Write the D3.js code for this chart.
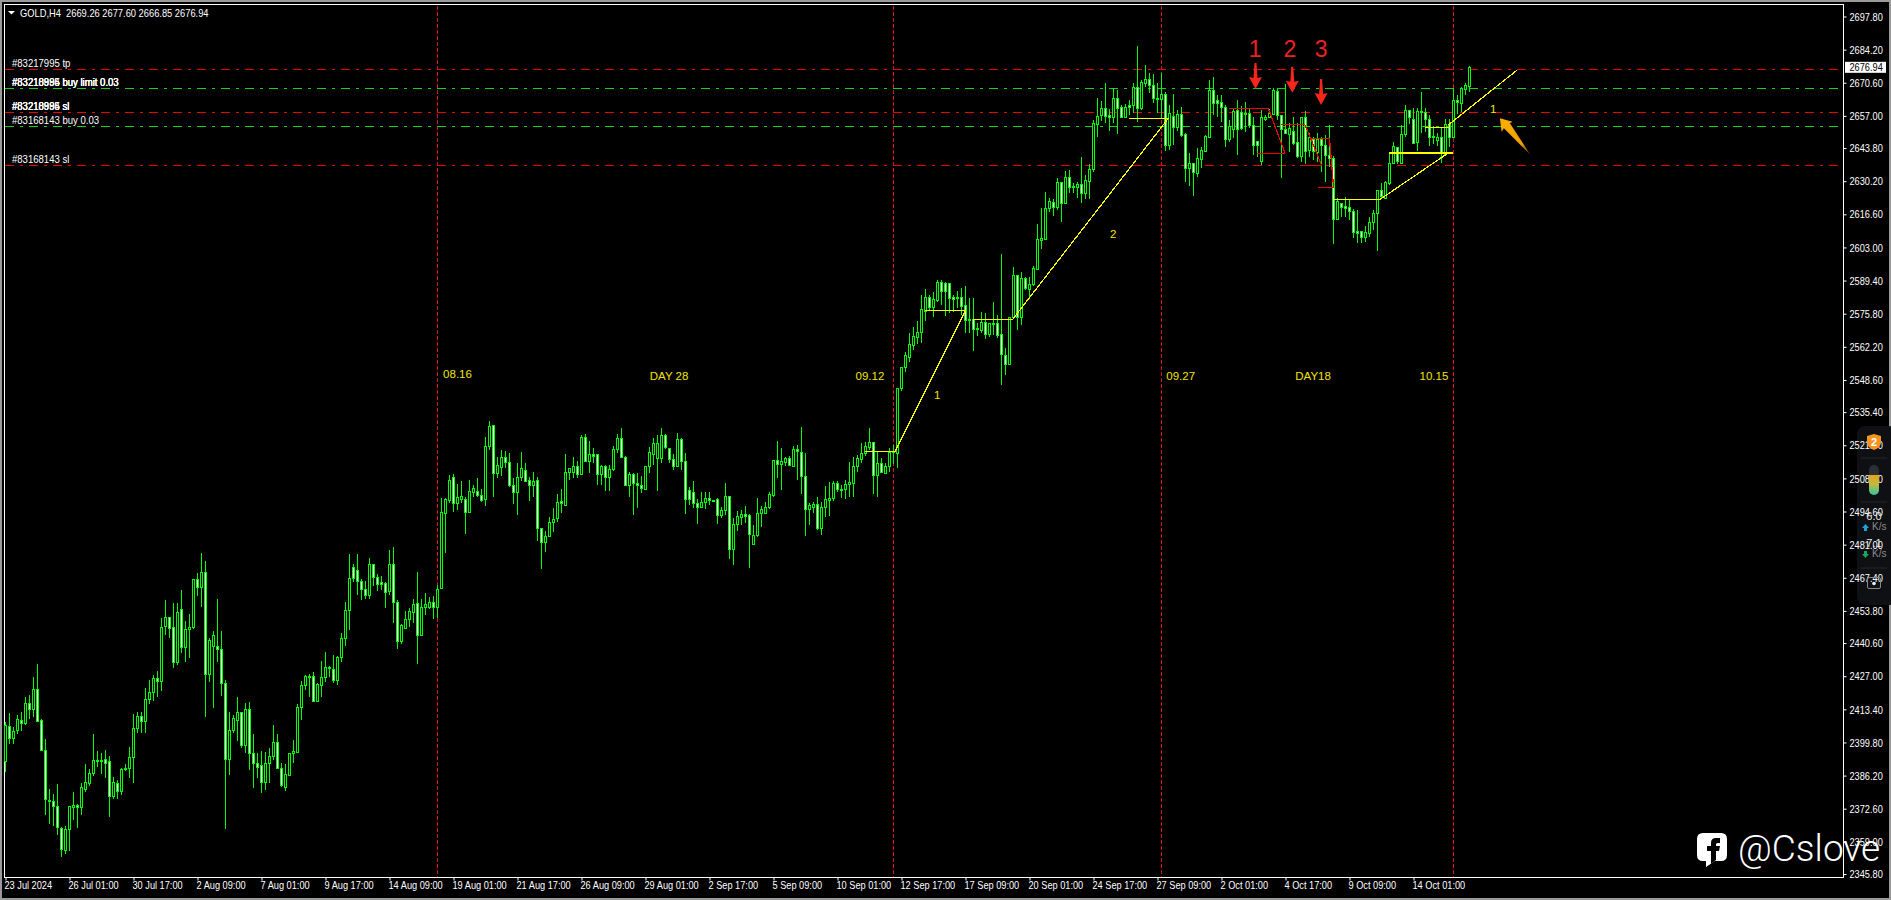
<!DOCTYPE html>
<html><head><meta charset="utf-8">
<script src="https://cdn.jsdelivr.net/npm/d3@7/dist/d3.min.js"></script>
<style>
html,body{margin:0;padding:0;background:#000;overflow:hidden}
text{font-family:"Liberation Sans",sans-serif;font-size:11.5px}
</style></head><body><svg id="c" width="1891" height="900"></svg>
<script>
const symbolInfo = "GOLD,H4  2669.26 2677.60 2666.85 2676.94";
const lastPrice = 2676.94;
const priceTicks = [2697.80,2684.20,2670.60,2657.00,2643.80,2630.20,2616.60,2603.00,2589.40,2575.80,2562.20,2548.60,2535.40,2521.80,2508.20,2494.60,2481.00,2467.40,2453.80,2440.60,2427.00,2413.40,2399.80,2386.20,2372.60,2359.00,2345.80];
const timeLabels = ["23 Jul 2024","26 Jul 01:00","30 Jul 17:00","2 Aug 09:00","7 Aug 01:00","9 Aug 17:00","14 Aug 09:00","19 Aug 01:00","21 Aug 17:00","26 Aug 09:00","29 Aug 01:00","2 Sep 17:00","5 Sep 09:00","10 Sep 01:00","12 Sep 17:00","17 Sep 09:00","20 Sep 01:00","24 Sep 17:00","27 Sep 09:00","2 Oct 01:00","4 Oct 17:00","9 Oct 09:00","14 Oct 01:00"];
const barsPerLabel = 16;

const opens = [
2392.3,2406.7,2401.8,2405.0,2408.9,2407.9,2415.9,2413.4,2421.6,2408.9,2396.6,2376.1,2375.9,2373.6,2364.8,2355.7,2364.2,2373.5,2374.0,2373.5,
2380.6,2383.3,2387.4,2392.5,2392.6,2392.9,2392.1,2378.0,2383.0,2379.7,2388.8,2389.2,2393.7,2405.6,2410.5,2408.8,2417.5,2420.7,2426.1,2425.2,
2447.7,2451.2,2447.1,2433.0,2454.4,2439.1,2446.2,2447.1,2466.8,2463.7,2469.6,2427.8,2439.4,2439.3,2438.0,2424.1,2392.9,2404.8,2409.0,2412.2,
2398.6,2413.4,2395.3,2391.5,2390.4,2383.7,2391.2,2394.3,2399.9,2389.5,2381.7,2386.6,2395.3,2396.0,2414.2,2423.3,2427.0,2427.0,2416.8,2423.3,
2426.5,2430.6,2429.8,2425.6,2434.7,2442.5,2454.0,2471.7,2470.5,2466.2,2462.7,2460.5,2472.9,2467.6,2465.8,2465.1,2462.1,2472.9,2457.3,2441.3,
2446.9,2450.6,2453.5,2456.9,2444.0,2455.3,2455.5,2457.5,2455.5,
2463.0,2494.1,2499.3,2508.9,2498.0,2499.9,2499.6,2494.6,2502.8,2503.2,2501.5,
2499.6,2521.6,2530.0,2510.6,2513.0,2516.9,2515.1,2505.6,2502.8,2508.6,2511.5,2507.4,2505.4,2507.4,2487.7,2482.2,2484.7,2490.4,2491.8,2498.9,
2497.2,2510.7,2510.7,2513.2,2510.0,2525.1,2515.5,2518.1,2518.1,2509.9,2513.4,2508.9,2511.9,2520.1,2524.6,2516.9,2505.6,2509.9,2506.5,2505.4,
2504.0,2513.2,2518.4,2516.4,2516.4,2525.9,2520.5,2516.0,2513.4,2524.2,2515.2,2503.3,2502.5,2498.0,2496.3,2498.7,2500.0,2499.2,2499.6,2493.3,
2495.1,2500.8,2479.4,2489.4,2492.5,2493.5,2493.0,2481.4,2485.0,2493.9,2494.1,2496.3,2501.5,2515.6,2514.2,2515.1,2516.4,2513.4,2520.1,2518.9,
2509.1,2495.5,2496.6,2497.6,2487.7,2496.3,2499.3,2500.0,2506.2,2504.0,2503.7,2505.8,2506.5,2513.3,2516.3,2518.5,2521.2,2523.0,2509.5,2514.4,
2510.6,2513.3,2519.5,2518.5,2545.2,2553.8,
2558.2,2563.1,2566.4,2568.4,2577.1,2582.5,2578.6,2581.4,2588.8,2588.3,2588.2,2582.7,2582.7,2582.7,2579.3,2573.5,2573.5,2569.96,2569.1,2572.3,
2567.5,2572.0,2571.9,2567.4,2558.9,2555.0,2574.3,2591.6,2574.6,2590.3,2585.96,2588.1,2594.3,2606.2,2606.6,2619.3,2621.5,2619.7,2629.7,2621.4,
2631.8,2628.1,2627.7,2628.9,2625.2,2630.4,2635.1,
2653.7,2657.4,2660.1,2657.4,2656.7,2664.2,2660.5,2656.4,2661.5,2661.3,2668.7,2660.4,2670.7,2672.0,2669.6,2664.5,2663.8,2665.9,2644.9,2656.8,
2652.6,2657.6,
2649.4,2635.5,2637.5,2633.7,2639.5,2642.7,2648.5,2667.6,2663.5,2662.6,2660.7,2647.7,2651.8,2659.4,2658.5,2658.0,2658.0,2653.1,2646.6,2638.6,
2655.9,2656.4,2657.8,2667.2,2657.2,2651.8,2649.6,2650.7,2646.3,2640.5,2656.4,2643.0,2647.4,2642.2,2647.4,2644.9,2641.0,2639.6,2614.6,2621.1,
2620.0,2619.5,2617.8,2609.6,2609.6,2607.2,2609.1,2613.5,2617.0,2626.6,2623.5,2629.6,2637.8,2644.4,2637.8,2649.4,2659.3,2655.7,2646.3,2658.9,
2658.6,2655.7,2648.6,2647.1,2648.2,2641.4,2653.5,2648.5,2663.5,2662.4,2667.9,2669.26];
const closes = [
2407.0,2401.8,2404.6,2409.3,2407.9,2415.9,2413.4,2421.6,2408.8,2396.7,2376.5,2375.9,2373.6,2365.0,2356.0,2364.2,2373.6,2374.0,2373.5,2381.4,
2383.4,2387.1,2392.6,2392.6,2392.3,2391.5,2378.0,2383.4,2379.7,2388.8,2389.2,2393.7,2405.6,2410.5,2408.8,2417.5,2420.7,2426.1,2425.2,2447.1,
2451.2,2446.6,2433.0,2453.2,2439.1,2446.4,2447.1,2466.8,2463.7,2469.6,2427.8,2441.9,2443.8,2438.0,2424.1,2392.9,2404.8,2409.7,2412.2,2398.6,
2413.4,2395.6,2391.5,2389.6,2383.7,2391.2,2394.3,2399.9,2389.5,2382.4,2386.7,2395.3,2396.2,2414.2,2423.3,2427.0,2426.5,2417.0,2423.8,2426.8,
2430.6,2430.8,2425.6,2434.7,2442.5,2454.0,2467.2,2467.2,2466.2,2462.7,2460.5,2472.9,2467.6,2464.7,2464.8,2461.7,2472.9,2457.3,2441.3,2447.9,
2450.6,2453.6,2456.5,2444.0,2455.3,2456.5,2457.5,2455.5,2462.9,
2494.3,2499.6,2507.4,2498.0,2500.7,2501.0,2494.6,2502.9,2504.1,2501.5,2499.3,
2521.6,2529.6,2510.6,2513.8,2516.9,2515.1,2505.6,2502.8,2508.9,2512.3,2507.3,2505.4,2507.0,2487.7,2482.0,2484.6,2490.4,2491.7,2498.7,2498.2,
2510.7,2512.3,2513.2,2510.2,2525.1,2515.5,2518.1,2517.5,2509.9,2513.4,2508.9,2511.9,2520.1,2524.6,2516.9,2505.6,2509.9,2506.5,2505.4,2504.4,
2513.2,2518.9,2522.6,2522.6,2525.9,2520.9,2516.0,2513.4,2524.2,2515.3,2499.6,2499.6,2498.0,2496.3,2498.7,2500.0,2499.3,2498.8,2493.3,2495.1,
2500.8,2479.4,2489.5,2492.9,2493.6,2492.8,2485.2,2485.0,2493.9,2495.5,2496.3,2501.8,2515.6,2514.2,2515.3,2516.6,2513.6,2520.1,2519.3,2509.2,
2495.5,2497.3,2497.7,2487.7,2496.3,2499.6,2500.0,2506.2,2503.7,2503.7,2505.8,2506.6,2513.3,2516.4,2518.5,2521.5,2523.0,2509.5,2514.4,2511.0,
2513.3,2519.2,2519.0,2545.2,2553.8,2558.8,
2563.4,2566.7,2568.4,2577.6,2582.5,2578.6,2581.7,2588.8,2585.1,2585.3,2582.4,2582.0,2582.1,2579.1,2573.4,2573.2,2569.7,2569.4,2572.3,2567.6,
2571.9,2571.7,2567.1,2559.1,2555.0,2574.3,2591.6,2574.6,2590.3,2586.5,2588.1,2594.4,2606.4,2606.8,2619.3,2621.9,2619.7,2629.7,2621.4,2631.8,
2627.7,2627.8,2628.9,2625.2,2630.7,2635.2,2654.0,
2656.8,2660.1,2657.0,2656.7,2664.2,2660.4,2656.7,2660.5,2660.8,2668.7,2660.4,2670.8,2672.0,2669.7,2664.5,2663.8,2665.9,2644.9,2658.1,2652.6,
2657.6,2649.3,
2635.5,2637.5,2634.0,2639.6,2643.0,2648.8,2667.6,2662.4,2662.2,2660.5,2647.7,2652.9,2659.2,2651.8,2651.9,2657.8,2653.1,2644.9,2644.9,2656.4,
2656.7,2658.3,2667.5,2657.4,2651.8,2649.9,2651.9,2646.0,2640.5,2656.4,2642.7,2648.2,2642.5,2647.4,2644.9,2641.0,2639.6,2614.6,2622.2,2619.8,
2619.2,2617.8,2609.5,2609.1,2607.4,2609.4,2613.5,2617.0,2626.5,2624.1,2630.0,2637.8,2644.7,2638.4,2649.4,2659.3,2656.7,2646.0,2659.0,2658.6,
2655.6,2648.2,2648.5,2648.4,2641.6,2653.7,2648.5,2663.5,2662.6,2668.3,2669.5,2676.94];
const highs = [
2408.3,2411.8,2406.3,2411.1,2412.2,2418.6,2419.3,2426.5,2432.0,2409.3,2401.2,2380.6,2378.7,2382.6,2365.0,2365.3,2373.7,2379.3,2374.4,2383.3,
2391.0,2388.8,2403.3,2396.3,2395.6,2396.7,2394.3,2385.5,2384.4,2389.2,2391.0,2397.8,2411.4,2412.4,2412.2,2422.0,2425.4,2427.5,2429.3,2450.8,
2458.3,2451.4,2456.9,2457.2,2462.4,2449.7,2452.5,2466.8,2469.2,2477.4,2474.4,2442.5,2445.6,2458.5,2445.6,2425.4,2412.2,2411.1,2418.3,2412.4,
2415.9,2416.3,2403.3,2395.3,2396.3,2396.0,2397.4,2407.0,2403.3,2391.5,2391.0,2395.3,2400.8,2415.6,2425.2,2427.5,2427.8,2428.9,2424.1,2433.4,
2436.9,2431.2,2435.7,2435.3,2444.9,2457.6,2477.2,2473.1,2477.2,2466.8,2466.2,2475.4,2472.9,2468.8,2468.1,2465.8,2478.8,2479.9,2458.3,2448.4,
2453.9,2454.9,2458.5,2469.9,2458.5,2461.3,2459.6,2459.9,2464.4,
2500.0,2500.0,2509.6,2510.0,2505.9,2507.1,2500.7,2507.6,2505.5,2508.2,2503.7,
2525.1,2531.8,2530.0,2517.1,2519.9,2519.6,2518.8,2508.2,2514.4,2518.9,2514.4,2508.9,2511.0,2508.9,2487.7,2486.8,2492.5,2495.9,2501.7,2503.7,
2518.2,2512.3,2517.1,2515.3,2526.0,2526.4,2523.7,2520.8,2518.2,2513.7,2513.7,2513.7,2521.5,2526.4,2528.8,2517.4,2511.0,2510.3,2510.6,2509.3,
2513.3,2521.2,2524.6,2526.0,2528.8,2526.4,2520.5,2518.2,2526.7,2524.6,2518.8,2504.8,2507.1,2499.6,2502.8,2502.8,2502.8,2499.3,2500.0,2496.6,
2506.2,2501.0,2491.8,2495.0,2495.2,2496.9,2493.5,2489.1,2500.0,2496.9,2498.7,2502.8,2515.8,2523.6,2520.5,2517.1,2517.4,2521.6,2521.9,2529.2,
2518.5,2498.0,2498.5,2500.7,2498.7,2505.2,2506.6,2507.3,2507.3,2505.5,2507.6,2515.1,2517.1,2517.8,2522.6,2523.3,2528.8,2523.3,2519.2,2516.4,
2514.4,2520.5,2521.9,2545.2,2554.1,2560.2,
2567.8,2570.2,2572.7,2583.5,2585.8,2583.5,2584.9,2589.7,2589.7,2589.0,2588.6,2583.5,2585.1,2586.2,2587.2,2582.1,2582.1,2571.9,2576.4,2576.2,
2572.1,2580.5,2575.3,2600.3,2561.6,2574.6,2594.9,2591.7,2592.8,2590.7,2591.0,2595.4,2612.5,2619.1,2625.6,2623.2,2622.8,2631.4,2630.0,2634.5,
2634.8,2629.3,2630.0,2640.3,2632.7,2637.3,2655.3,
2664.2,2663.1,2670.4,2659.7,2668.3,2667.6,2661.5,2661.9,2663.5,2670.4,2685.7,2671.7,2677.9,2674.8,2674.2,2670.4,2674.5,2667.0,2661.5,2666.0,
2659.4,2660.5,
2649.9,2641.6,2637.5,2643.7,2644.4,2649.2,2671.7,2673.1,2665.6,2665.6,2661.5,2655.3,2659.7,2663.5,2661.1,2662.8,2659.7,2656.7,2646.7,2659.4,
2657.4,2659.7,2668.3,2668.3,2657.4,2670.1,2654.0,2656.7,2654.0,2656.4,2659.1,2649.9,2648.5,2649.9,2648.5,2649.2,2653.3,2640.5,2623.2,2621.1,
2623.9,2622.5,2618.7,2618.4,2609.6,2611.8,2615.6,2618.4,2626.6,2629.3,2630.3,2641.2,2646.4,2644.4,2653.3,2661.5,2659.4,2660.1,2660.4,2666.7,
2660.1,2657.4,2652.9,2649.9,2652.3,2655.7,2655.6,2668.3,2665.6,2669.0,2670.4,2677.60];
const lows = [
2387.8,2399.2,2399.2,2403.3,2404.5,2407.0,2409.4,2410.4,2408.1,2396.3,2370.0,2366.3,2365.7,2361.8,2352.9,2354.0,2355.4,2368.0,2364.6,2370.0,
2379.6,2381.9,2386.0,2389.6,2386.7,2385.4,2369.4,2376.5,2376.5,2378.2,2388.2,2385.1,2383.3,2403.6,2403.6,2403.8,2415.5,2417.0,2418.6,2421.1,
2443.9,2442.5,2430.2,2431.7,2436.4,2433.0,2434.6,2446.2,2459.9,2455.5,2410.4,2424.8,2413.8,2433.0,2419.0,2364.2,2386.5,2403.6,2400.5,2397.4,
2395.3,2388.5,2381.3,2385.1,2378.9,2380.3,2383.0,2392.6,2388.9,2381.7,2380.0,2386.0,2391.2,2396.0,2409.0,2421.3,2418.6,2416.6,2416.6,2418.6,
2424.8,2426.8,2424.4,2423.4,2433.0,2439.5,2446.0,2465.8,2460.3,2458.3,2458.7,2458.5,2464.2,2462.1,2462.4,2455.1,2460.3,2449.0,2438.0,2440.2,
2446.2,2447.1,2448.7,2431.9,2443.9,2452.1,2454.4,2450.5,2450.8,
2462.7,2477.5,2498.0,2494.6,2495.2,2498.0,2485.4,2493.9,2500.7,2500.7,2498.7,
2496.9,2519.9,2500.7,2508.2,2509.2,2512.3,2504.8,2497.7,2493.3,2507.3,2506.6,2499.1,2500.7,2482.6,2470.8,2478.1,2484.3,2486.3,2490.4,2493.9,
2496.9,2507.5,2508.5,2508.2,2509.6,2515.1,2510.6,2514.4,2505.5,2505.5,2503.2,2503.2,2511.4,2518.5,2516.4,2505.1,2500.7,2493.2,2496.2,2502.1,
2503.9,2510.3,2513.7,2503.2,2514.4,2520.3,2514.7,2511.7,2513.0,2511.7,2493.6,2497.3,2496.2,2489.5,2495.9,2495.5,2497.3,2498.7,2489.5,2491.8,
2493.2,2475.0,2472.7,2486.6,2489.1,2489.8,2471.6,2480.9,2484.3,2488.4,2493.6,2495.5,2500.7,2508.2,2503.4,2513.3,2513.3,2513.0,2507.5,2501.8,
2484.6,2489.1,2493.9,2487.0,2485.0,2492.5,2492.8,2499.1,2502.8,2500.0,2499.7,2500.7,2500.7,2511.0,2514.4,2517.4,2519.9,2501.8,2500.7,2510.6,
2510.3,2511.0,2514.1,2512.6,2544.2,2552.0,
2556.1,2560.9,2563.2,2563.7,2572.8,2577.3,2574.6,2580.8,2579.4,2574.9,2576.0,2576.7,2578.3,2575.3,2568.0,2567.8,2560.5,2566.7,2567.8,2565.4,
2566.1,2567.1,2566.0,2546.6,2550.7,2554.8,2573.9,2569.1,2571.2,2585.5,2582.1,2587.2,2593.8,2602.4,2606.1,2617.7,2615.9,2618.4,2613.6,2621.1,
2625.2,2625.2,2623.4,2621.1,2622.8,2622.8,2634.1,
2648.5,2654.9,2654.2,2650.9,2653.9,2649.6,2656.0,2656.0,2657.4,2658.0,2654.6,2659.4,2669.0,2666.3,2662.2,2658.0,2656.0,2642.7,2643.0,2645.1,
2650.9,2648.2,
2630.0,2628.2,2624.3,2632.1,2635.5,2642.3,2648.2,2657.4,2656.7,2654.6,2644.4,2646.4,2647.8,2641.0,2651.2,2650.5,2651.9,2641.0,2640.3,2636.9,
2654.9,2656.0,2657.4,2655.3,2631.7,2649.9,2642.3,2645.1,2639.6,2638.2,2637.1,2640.3,2638.9,2638.2,2634.1,2630.0,2636.2,2604.4,2614.3,2615.6,
2615.4,2614.3,2606.8,2605.0,2605.0,2605.4,2607.2,2610.2,2601.7,2623.2,2623.5,2628.6,2637.1,2637.3,2637.3,2648.2,2653.7,2645.5,2642.6,2649.9,
2650.5,2644.7,2645.5,2644.7,2637.5,2641.0,2644.4,2648.2,2657.8,2658.7,2665.6,2666.85];

/* order lines: price, colour class */
const orderLevels = [2676.1,2668.3,2658.5,2652.7,2636.7];
const orderColors = ["red","green","red","green","red"];
const orderTexts = [["#83217995 tp"],["#83218994 buy limit 0.03","#83218995 buy limit 0.03","#83210885 buy limit 0.03"],["#83218994 sl","#83218995 sl","#83210885 sl"],["#83168143 buy 0.03"],["#83168143 sl"]];
/* vertical period separators, as bar indices */
const separators = [108,222,289,362];
/* trend lines: bar index a, price a, bar index b, price b */
const yellowLines = [
[214.9,2519.3,222.4,2519.3],[222.4,2519.3,240,2577.0],[229.9,2577.0,240,2577.0],[241.9,2573.5,251.8,2573.5],
[251.8,2573.5,290.7,2656.0],[280.9,2656.0,290.7,2656.0],[332.2,2622.8,343.7,2622.8],[343.7,2622.8,360.7,2641.8],
[345.9,2641.8,361.9,2641.8],[354.9,2652.3,361.2,2652.3],[360.7,2653.3,377.9,2675.8]];
const redLines = [
[305.9,2660.1,315.7,2660.1],[315.7,2660.1,319.9,2641.6],[312.9,2641.6,319.9,2641.6],[318.9,2653.5,324.9,2653.5],
[324.9,2653.3,329,2636.8],[323.7,2636.8,329,2636.8],[326,2647.8,331,2647.8],[331,2647.8,332,2628],[328,2627.7,332,2627.7]];
const yellowNotes = [["08.16",113,2551.0],["DAY 28",165.9,2550.2],["09.12",216.1,2550.2],["09.27",293.8,2550.2],["DAY18",326.9,2550.2],["10.15",357.1,2550.2],["1",232.9,2542.4],["2",276.9,2608.5],["1",371.9,2659.8]];
const redNotes = [["1",312.4,2684.5],["2",321.1,2684.5],["3",328.9,2684.5]];
const redArrowTips = [[312.5,2668.0],[321.7,2666.5],[328.9,2661.5]];
const orangeArrowTip = [373.6,2656];

const W=1891,H=900,L=4.5,T=4.5,R=1843.5,B=877.5;
const svg=d3.select("#c");
const x=d3.scaleLinear().domain([0,366]).range([5.5,1469.5]);
const y=d3.scaleLinear().domain([2345.8,2697.8]).range([874,16.5]);
/* the reference's UI font is narrower than any installed one: condense glyphs horizontally */
const narrow=(sel,k)=>sel.each(function(){this.setAttribute("textLength",this.getComputedTextLength()*k);this.setAttribute("lengthAdjust","spacingAndGlyphs");});

/* window chrome */
svg.append("rect").attr("width",W).attr("height",H).attr("fill","#9a9a9a");
svg.append("rect").attr("x",2).attr("y",2).attr("width",W-4).attr("height",H-4).attr("fill","#000");
svg.append("rect").attr("x",L).attr("y",T).attr("width",R-L).attr("height",B-T).attr("fill","#000").attr("stroke","#fff").attr("shape-rendering","crispEdges");

/* overlay widget panel (behind the axis labels) */
const defs=svg.append("defs");
const pillG=defs.append("linearGradient").attr("id","pill").attr("x1",0).attr("x2",0).attr("y1",0).attr("y2",1);
pillG.append("stop").attr("offset","0%").attr("stop-color","#e6a41a");
pillG.append("stop").attr("offset","45%").attr("stop-color","#c4b83a");
pillG.append("stop").attr("offset","100%").attr("stop-color","#2ec7a6");
const orG=defs.append("linearGradient").attr("id","orangeFade").attr("x1",0).attr("x2",1).attr("y1",0).attr("y2",1);
orG.append("stop").attr("offset","0%").attr("stop-color","#ffb000");
orG.append("stop").attr("offset","70%").attr("stop-color","#f0a000");
orG.append("stop").attr("offset","100%").attr("stop-color","#3a2600");
svg.append("rect").attr("x",1857).attr("y",426).attr("width",40).attr("height",179).attr("rx",8).attr("fill","#0e1013");
svg.append("g").selectAll("line").data([458,502,568]).join("line").attr("x1",1861).attr("x2",1887).attr("y1",d=>d).attr("y2",d=>d).attr("stroke","#25282c");

/* separators */
svg.append("g").selectAll("line").data(separators).join("line")
 .attr("x1",d=>x(d)).attr("x2",d=>x(d)).attr("y1",T+1).attr("y2",B-1)
 .attr("stroke","#d8121a").attr("stroke-dasharray","4 2").attr("shape-rendering","crispEdges");

/* order lines */
const colorOf={red:"#f00000",green:"#14d414"};
svg.append("g").selectAll("line").data(orderLevels).join("line")
 .attr("x1",5).attr("x2",1838).attr("y1",d=>Math.round(y(d))+.5).attr("y2",d=>Math.round(y(d))+.5)
 .attr("stroke",(d,i)=>colorOf[orderColors[i]]).attr("stroke-dasharray","9 6 3 6").attr("shape-rendering","crispEdges");

/* candles */
const idx=d3.range(opens.length);
const cg=svg.append("g").attr("shape-rendering","crispEdges");
cg.selectAll("line").data(idx).join("line")
 .attr("x1",i=>x(i)).attr("x2",i=>x(i)).attr("y1",i=>y(highs[i])).attr("y2",i=>y(lows[i])).attr("stroke","#00ff00");
cg.selectAll("rect").data(idx).join("rect")
 .attr("x",i=>x(i)-1).attr("width",2)
 .attr("y",i=>Math.round(y(Math.max(opens[i],closes[i])))+.5)
 .attr("height",i=>Math.max(1,Math.round(y(Math.min(opens[i],closes[i])))-Math.round(y(Math.max(opens[i],closes[i])))))
 .attr("fill",i=>closes[i]>=opens[i]?"#000":"#fff").attr("stroke","#00ff00");

/* trend lines */
const seg=(sel,data,color,sw)=>sel.selectAll("line").data(data).join("line")
 .attr("x1",d=>x(d[0])).attr("y1",d=>y(d[1])).attr("x2",d=>x(d[2])).attr("y2",d=>y(d[3]))
 .attr("stroke",color).attr("stroke-width",sw).attr("shape-rendering","crispEdges");
seg(svg.append("g"),yellowLines,"#ffff00",1.2);
seg(svg.append("g"),redLines,"#f00000",1.2);

/* price axis */
const axisY=d3.axisRight(y).tickValues(priceTicks).tickFormat(d3.format(".2f")).tickSize(3).tickPadding(3);
const gy=svg.append("g").attr("transform",`translate(${R},0)`).call(axisY);
gy.select(".domain").remove();
gy.selectAll(".tick line").attr("stroke","#fff");
gy.selectAll("text").attr("fill","#fff").call(narrow,.8);

/* time axis */
const tickIdx=timeLabels.map((_,i)=>i*barsPerLabel);
const axisX=d3.axisBottom(x).tickValues(tickIdx).tickFormat((d,i)=>timeLabels[i]).tickSize(3).tickPadding(3);
const gx=svg.append("g").attr("transform",`translate(0,${B})`).call(axisX);
gx.select(".domain").remove();
gx.selectAll(".tick line").attr("stroke","#fff");
gx.selectAll("text").attr("fill","#fff").attr("text-anchor","start").attr("dx",-1.5).attr("dy",".5em").call(narrow,.8);

/* last price box */
const lp=y(lastPrice);
svg.append("rect").attr("x",1845).attr("y",lp-5.5).attr("width",41).attr("height",11).attr("fill","#fff");
svg.append("text").attr("x",1849.5).attr("y",lp+4).attr("fill","#000").text(d3.format(".2f")(lastPrice)).call(narrow,.8);

/* header */
svg.append("path").attr("d",d3.line()([[8,11],[15,11],[11.5,14.5]])+"Z").attr("fill","#fff");
svg.append("text").attr("x",20).attr("y",16.5).attr("fill","#fff").style("white-space","pre").text(symbolInfo).call(narrow,.81);

/* order labels */
orderLevels.forEach((p,i)=>orderTexts[i].forEach(t=>
 svg.append("text").attr("x",12).attr("y",Math.round(y(p))-2).attr("fill","#fff").text(t).call(narrow,.83)));

/* yellow notes */
svg.append("g").selectAll("text").data(yellowNotes).join("text")
 .attr("x",d=>x(d[1])).attr("y",d=>y(d[2])+4).attr("text-anchor","middle").attr("fill","#f2e400").text(d=>d[0]);

/* red notes */
svg.append("g").selectAll("text").data(redNotes).join("text")
 .attr("x",d=>x(d[1])).attr("y",d=>y(d[2])+8.5).attr("text-anchor","middle").attr("fill","#f02020")
 .style("font-size","23px").text(d=>d[0]);
const arrowShape=d3.line()([[0,0],[-6.5,-12],[-2,-11],[-1,-26],[1,-26],[2,-11],[6.5,-12]])+"Z";
svg.append("g").selectAll("path").data(redArrowTips).join("path")
 .attr("d",arrowShape).attr("transform",d=>`translate(${x(d[0])},${y(d[1])})`).attr("fill","#f8261a");

/* orange arrow */
const orangeShape=d3.line()([[0,0],[12.7,3.3],[10,5],[30.7,36.7],[4,10],[1.7,13.3]])+"Z";
svg.append("path").attr("d",orangeShape).attr("transform",`translate(${x(orangeArrowTip[0])},${y(orangeArrowTip[1])})`).attr("fill","url(#orangeFade)");

/* widget foreground */
const wg=svg.append("g");
wg.append("path").attr("d","M1867 436 L1874 434 L1881 436 L1881 443 Q1880 448 1874 450 Q1868 448 1867 443Z").attr("fill","#f7941d");
wg.append("text").attr("x",1874).attr("y",446).attr("text-anchor","middle").attr("fill","#fff").style("font-size","11px").style("font-weight","bold").text("2");
wg.append("rect").attr("x",1869).attr("y",465).attr("width",10).attr("height",30).attr("rx",5).attr("fill","#2b2e33");
wg.append("path").attr("d","M1869 475 H1879 V490 A5 5 0 0 1 1869 490Z").attr("fill","url(#pill)");
wg.append("text").attr("x",1874).attr("y",520).attr("text-anchor","middle").attr("fill","#e8e8e8").style("font-size","11px").text("6.0");
wg.append("path").attr("d","M1865.5 524 L1869 528 H1867 V531 H1864 V528 H1862Z").attr("fill","#1e9de0");
wg.append("text").attr("x",1872).attr("y",530).attr("fill","#8a8a8a").style("font-size","10px").text("K/s");
wg.append("text").attr("x",1874).attr("y",547).attr("text-anchor","middle").attr("fill","#e8e8e8").style("font-size","11px").text("7.1");
wg.append("path").attr("d","M1865.5 558 L1869 554 H1867 V551 H1864 V554 H1862Z").attr("fill","#12a860");
wg.append("text").attr("x",1872).attr("y",557).attr("fill","#8a8a8a").style("font-size","10px").text("K/s");
wg.append("rect").attr("x",1867.5).attr("y",577.5).attr("width",13).attr("height",11).attr("rx",1.5).attr("fill","none").attr("stroke","#888");
wg.append("circle").attr("cx",1874).attr("cy",583.5).attr("r",1.8).attr("fill","#eee");

/* watermark */
const wm=svg.append("g");
wm.append("path").attr("d","M1703 833 H1721 Q1727 833 1727 839 V855 Q1727 861 1721 861 H1715 L1706 867 V861 H1703 Q1697 861 1697 855 V839 Q1697 833 1703 833Z").attr("fill","#fff");
wm.append("path").attr("d","M1711 864 V851 H1707 V846 H1711 V843 Q1711 838 1716 838 H1720 V843 H1717.5 Q1716 843 1716 844.5 V846 H1720 L1719 851 H1716 V860Z").attr("fill","#000");
wm.append("text").attr("x",1738).attr("y",861).attr("fill","#fff").style("font-family","Roboto,sans-serif").style("font-weight","300").style("font-size","37px").text("@Cslove");
</script></body></html>
